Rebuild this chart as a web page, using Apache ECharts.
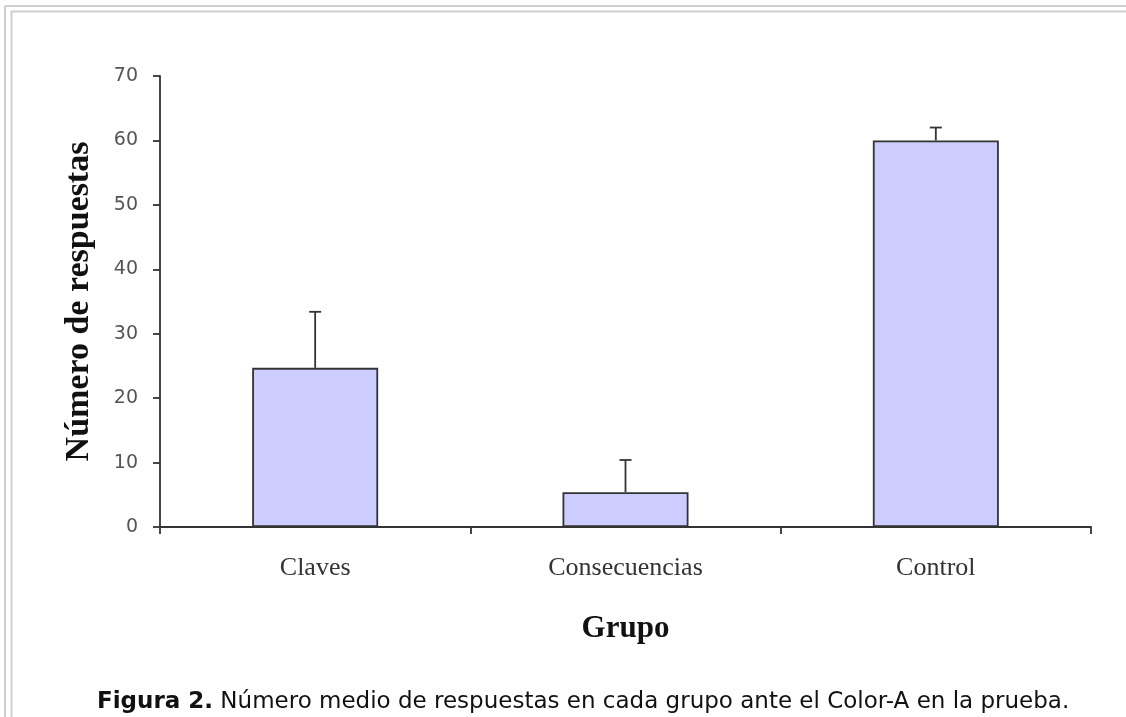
<!DOCTYPE html>
<html>
<head>
<meta charset="utf-8">
<script src="https://cdn.jsdelivr.net/npm/echarts@6/dist/echarts.min.js"></script>
<style>
html,body{margin:0;padding:0;background:#fff;}
#main{width:1126px;height:717px;}
</style>
</head>
<body>
<div id="main"></div>
<script>
var categories = ['Claves', 'Consecuencias', 'Control'];
var means = [24.7, 5.4, 60.0];
var errorTops = [33.4, 10.4, 62.0];
var yTicks = [0, 10, 20, 30, 40, 50, 60, 70];
var yName = 'Número de respuestas';
var xName = 'Grupo';
var captionBold = 'Figura 2.';
var captionText = ' Número medio de respuestas en cada grupo ante el Color-A en la prueba.';

var chart = echarts.init(document.getElementById('main'), null, {renderer: 'canvas'});
var axisColor = '#333';
var option = {
  backgroundColor: '#fff',
  animation: false,
  grid: {left: 160, right: 35, top: 76, bottom: 190, containLabel: false},
  xAxis: {
    type: 'category',
    data: categories,
    boundaryGap: true,
    name: xName,
    nameLocation: 'middle',
    nameGap: 86,
    nameTextStyle: {fontFamily: 'Liberation Serif', fontWeight: 'bold', fontSize: 31, color: '#111'},
    axisLine: {lineStyle: {color: axisColor, width: 1.8}},
    axisTick: {show: true, inside: false, length: 7, interval: 0, alignWithLabel: false, lineStyle: {color: axisColor, width: 1.8}},
    axisLabel: {margin: 28, fontFamily: 'Liberation Serif', fontSize: 26, color: '#333', interval: 0},
    splitLine: {show: false}
  },
  yAxis: {
    type: 'value',
    min: yTicks[0],
    max: yTicks[yTicks.length - 1],
    interval: 10,
    name: yName,
    nameLocation: 'middle',
    nameRotate: 90,
    nameGap: 64,
    nameTextStyle: {fontFamily: 'Liberation Serif', fontWeight: 'bold', fontSize: 34, color: '#111'},
    axisLine: {show: true, lineStyle: {color: axisColor, width: 1.8}},
    axisTick: {show: true, inside: false, length: 7, lineStyle: {color: axisColor, width: 1.8}},
    axisLabel: {margin: 22, fontFamily: 'DejaVu Sans', fontSize: 19, color: '#555'},
    splitLine: {show: false}
  },
  series: [
    {
      type: 'bar',
      data: means,
      barWidth: '40.6%',
      itemStyle: {color: '#ccccff', borderColor: '#333', borderWidth: 1.8}
    },
    {
      type: 'custom',
      data: errorTops.map(function (v, i) { return [i, means[i], v]; }),
      renderItem: function (params, api) {
        var x = api.value(0);
        var base = api.coord([x, api.value(1)]);
        var top = api.coord([x, api.value(2)]);
        var hw = 6;
        return {
          type: 'group',
          children: [
            {type: 'line', shape: {x1: base[0], y1: base[1], x2: top[0], y2: top[1]}, style: {stroke: '#333', lineWidth: 1.8}},
            {type: 'line', shape: {x1: top[0] - hw, y1: top[1], x2: top[0] + hw, y2: top[1]}, style: {stroke: '#333', lineWidth: 1.8}}
          ]
        };
      },
      z: 3
    }
  ],
  graphic: [
    {type: 'line', shape: {x1: 5, y1: 6, x2: 1126, y2: 6}, style: {stroke: '#cfcfcf', lineWidth: 2}},
    {type: 'line', shape: {x1: 5, y1: 6, x2: 5, y2: 717}, style: {stroke: '#cfcfcf', lineWidth: 2}},
    {type: 'line', shape: {x1: 11, y1: 11.5, x2: 1126, y2: 11.5}, style: {stroke: '#cfcfcf', lineWidth: 2}},
    {type: 'line', shape: {x1: 11.5, y1: 11, x2: 11.5, y2: 717}, style: {stroke: '#cfcfcf', lineWidth: 2}},
    {
      type: 'text',
      left: 97,
      top: 691,
      style: {
        text: '{b|' + captionBold + '}{n|' + captionText + '}',
        rich: {
          b: {fontFamily: 'DejaVu Sans', fontWeight: 'bold', fontSize: 23, fill: '#111'},
          n: {fontFamily: 'DejaVu Sans', fontSize: 23, fill: '#111'}
        }
      }
    }
  ]
};
chart.setOption(option);
</script>
</body>
</html>
